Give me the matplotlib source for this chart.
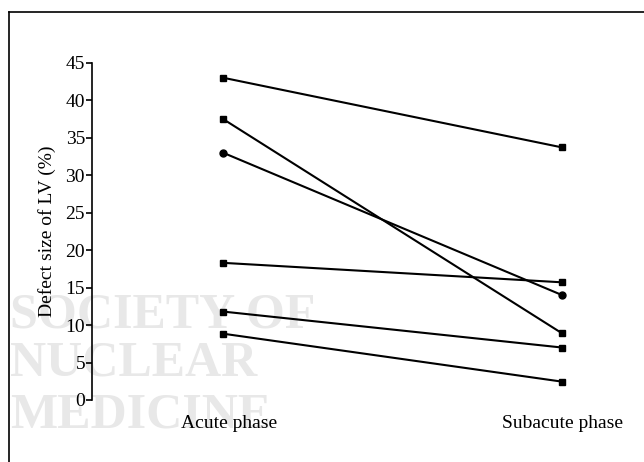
import matplotlib.pyplot as plt
import matplotlib.transforms as mtransforms
from matplotlib.lines import Line2D

phases = ['Acute phase', 'Subacute phase']
acute = [43.0, 37.5, 33.0, 18.3, 11.8, 8.85]
subacute = [33.7, 8.9, 14.0, 15.7, 7.0, 2.45]
markers = ['s', 's', 'o', 's', 's', 's']
yticks = [0, 5, 10, 15, 20, 25, 30, 35, 40, 45]

plt.rcParams['font.family'] = ['Liberation Serif', 'DejaVu Serif']

fig = plt.figure(figsize=(6.44, 4.62), dpi=100)

# watermark behind the plot
for txt, yb in [('SOCIETY OF', 327), ('NUCLEAR', 376), ('MEDICINE', 428)]:
    fig.text(10 / 644, 1 - yb / 462, txt, fontsize=36, fontweight='bold',
             color='#e8e8e8', ha='left', va='baseline', zorder=-5)

# frame edges (top and left only, image is cropped)
fig.add_artist(Line2D([9 / 644, 1], [1 - 12 / 462, 1 - 12 / 462], color='black', lw=1.2))
fig.add_artist(Line2D([9 / 644, 9 / 644], [0, 1 - 12 / 462], color='black', lw=1.2))

ax = fig.add_axes([92 / 644, 1 - 400 / 462, (640 - 92) / 644, (400 - 62.7) / 462])
ax.patch.set_alpha(0)

for a, s, m in zip(acute, subacute, markers):
    ax.plot([0, 1], [a, s], color='black', lw=1.5, marker=m, markersize=5,
            markerfacecolor='black', markeredgecolor='black', clip_on=False)

ax.set_ylim(0, 45)
ax.set_xlim(-0.386, 1.23)
ax.set_yticks(yticks)
ax.set_xticks([0, 1])
ax.set_xticklabels(phases, fontsize=14)
ax.tick_params(axis='x', length=0, pad=11)
ax.tick_params(axis='y', direction='out', length=4, width=1.2, labelsize=14, pad=1)

# acute label sits a bit right of its markers in the original
lbl = ax.get_xticklabels()[0]
lbl.set_transform(lbl.get_transform() + mtransforms.ScaledTranslation(6 / 100, 0, fig.dpi_scale_trans))

for side in ['top', 'right', 'bottom']:
    ax.spines[side].set_visible(False)
ax.spines['left'].set_linewidth(1.2)

ax.set_ylabel('Defect size of LV (%)', fontsize=14, labelpad=7)

fig.savefig('out.png', dpi=100)
